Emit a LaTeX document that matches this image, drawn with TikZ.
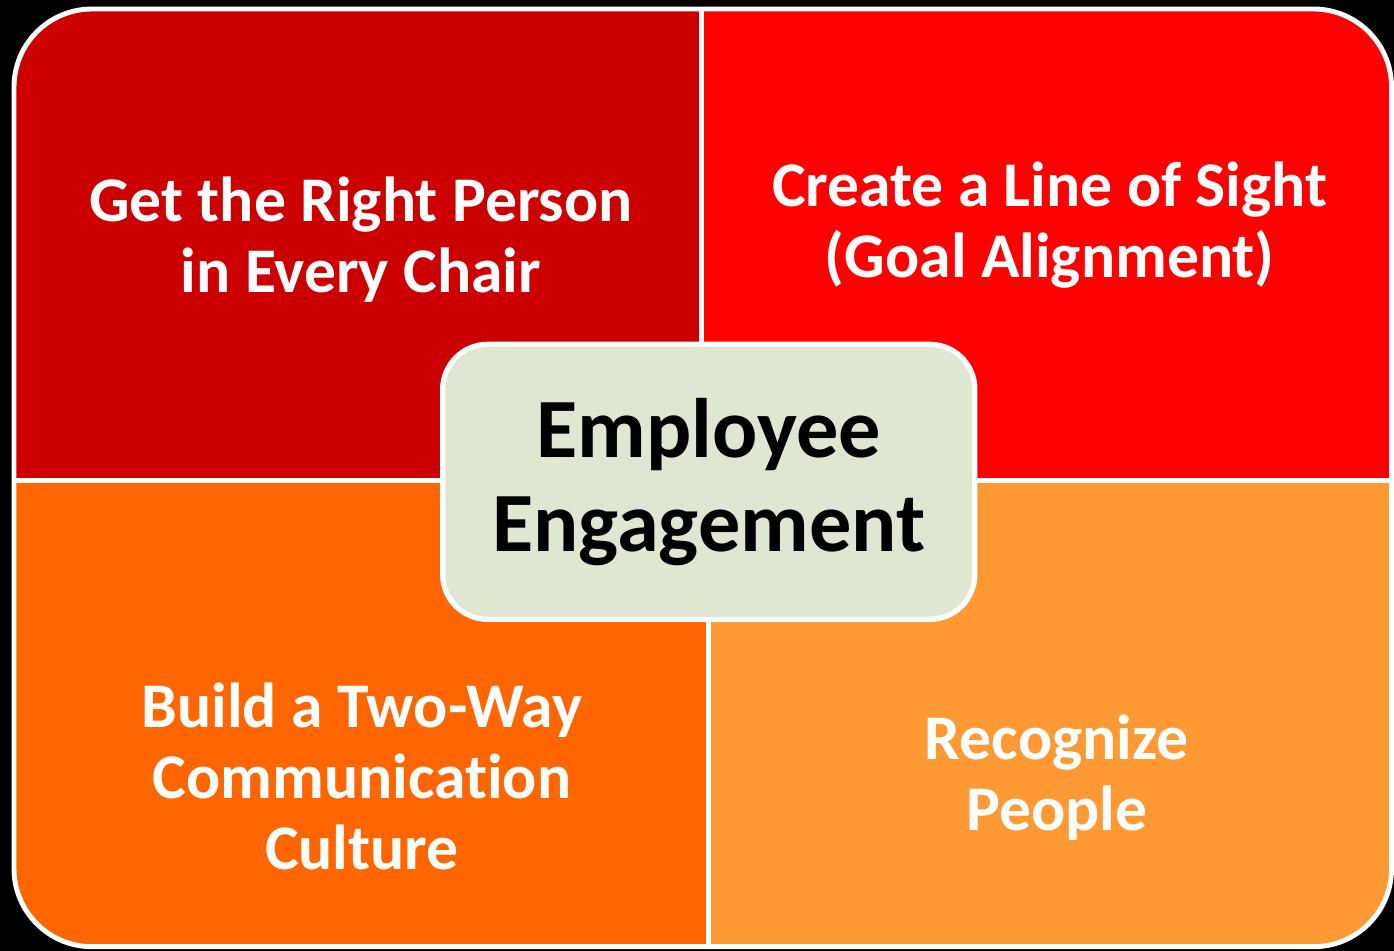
\documentclass[tikz,border=0pt]{standalone}
\usepackage{fontspec}
\setmainfont{Carlito}[Ligatures=NoCommon]
\definecolor{quadA}{HTML}{CC0000}
\definecolor{quadB}{HTML}{FF0000}
\definecolor{quadC}{HTML}{FF6600}
\definecolor{quadD}{HTML}{FF9933}
\definecolor{centreFill}{HTML}{DFE7D2}
\tikzset{
  sep/.style={draw=white, line width=1.4pt},
  quadtext/.style={text=white, align=center, font=\bfseries\fontsize{18.1}{20.2}\selectfont},
  centre/.style={fill=centreFill, draw=white, line width=1.5pt, rounded corners=0.45cm,
    minimum width=5.32cm, minimum height=2.75cm, inner sep=0pt, align=center,
    font=\bfseries\fontsize{24}{26.7}\selectfont}
}
\begin{document}
\begin{tikzpicture}[x=0.01cm,y=-0.01cm]
    % fond
    \fill[black] (0,0) rectangle (1394,951);

    % quadrants
    \begin{scope}
        \clip[rounded corners=0.78cm] (14,9) rectangle (1392,947);
        \fill[quadA] (0,0) rectangle (702,481);
        \fill[quadB] (702,0) rectangle (1394,481);
        \fill[quadC] (0,481) rectangle (709,951);
        \fill[quadD] (709,481) rectangle (1394,951);
    \end{scope}

    % separations
    \draw[sep] (702,9) -- (702,481);
    \draw[sep] (709,481) -- (709,947);
    \draw[sep] (14,481) -- (1392,481);

    % cadre
    \draw[sep, rounded corners=0.78cm] (14,9) rectangle (1392,947);

    % textes
    \node[quadtext] (chair) at (361,240) {Get the Right Person\\in Every Chair};
    \node[quadtext] (sight) at (1050,225) {Create a Line of Sight\\(Goal Alignment)};
    \node[quadtext] (talk) at (362,777) {Build a Two-Way\\Communication\\Culture};
    \node[quadtext] (people) at (1057,778) {Recognize\\People};

    % centre
    \node[centre] (engage) at (709,482) {Employee\\Engagement};
\end{tikzpicture}
\end{document}
